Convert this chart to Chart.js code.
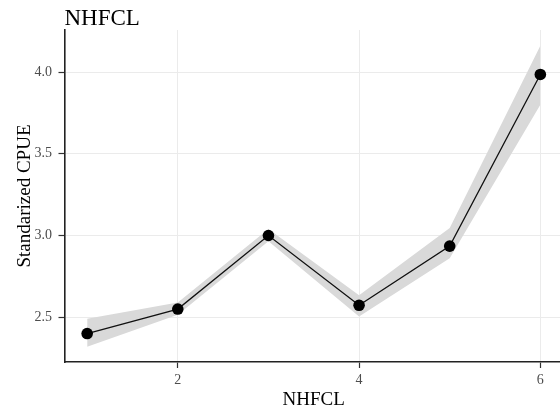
<!DOCTYPE html>
<html>
<head>
<meta charset="utf-8">
<script src="https://cdn.jsdelivr.net/npm/chart.js@4/dist/chart.umd.min.js"></script>
<style>
html,body{margin:0;padding:0;background:#fff;overflow:hidden;}
#wrap{width:560px;height:414px;overflow:hidden;position:relative;}
canvas{display:block;}
</style>
</head>
<body>
<div id="wrap"><canvas id="c" width="563" height="414" style="width:563px;height:414px"></canvas></div>
<script>
const chartTitle = "NHFCL";
const xAxisTitle = "NHFCL";
const yAxisTitle = "Standarized CPUE";
const categories = [1, 2, 3, 4, 5, 6];
const cpue  = [2.40, 2.55, 3.00, 2.573, 2.935, 3.985];
const upper = [2.49, 2.59, 3.04, 2.635, 3.045, 4.16];
const lower = [2.32, 2.515, 2.965, 2.505, 2.86, 3.80];
const xTicks = [2, 4, 6];
const yTicks = [2.5, 3.0, 3.5, 4.0];

const pts = a => categories.map((x, i) => ({x: x, y: a[i]}));
const FONT = "'Liberation Serif', 'Times New Roman', serif";

const titlePlugin = {
  id: 'ggTitle',
  afterDraw(chart) {
    const ctx = chart.ctx;
    ctx.save();
    ctx.font = "23px " + FONT;
    ctx.fillStyle = "#000";
    ctx.textBaseline = "alphabetic";
    ctx.textAlign = "left";
    ctx.fillText(chartTitle, chart.chartArea.left, 25);
    ctx.restore();
  }
};

new Chart(document.getElementById('c'), {
  type: 'line',
  data: {
    datasets: [
      {
        label: 'CPUE', data: pts(cpue), order: 0,
        borderColor: '#111', borderWidth: 1.3, pointRadius: 5.8,
        pointBackgroundColor: '#000', pointBorderColor: '#000', pointBorderWidth: 0,
        fill: false, tension: 0
      },
      {
        label: 'upper', data: pts(upper), order: 1,
        borderWidth: 0, pointRadius: 0, borderColor: 'rgba(0,0,0,0)',
        backgroundColor: '#d9d9d9', fill: '+1', tension: 0
      },
      {
        label: 'lower', data: pts(lower), order: 2,
        borderWidth: 0, pointRadius: 0, borderColor: 'rgba(0,0,0,0)',
        backgroundColor: '#d9d9d9', fill: false, tension: 0
      }
    ]
  },
  options: {
    responsive: false,
    animation: false,
    events: [],
    layout: {autoPadding: false, padding: {top: 30, left: 0, right: 0, bottom: 0}},
    plugins: {legend: {display: false}, tooltip: {enabled: false}, title: {display: false}},
    scales: {
      x: {
        type: 'linear', min: 0.75, max: 6.25,
        afterBuildTicks: s => { s.ticks = xTicks.map(v => ({value: v})); },
        afterFit: s => { s.height = 52; s.paddingLeft = 0; s.paddingRight = 0; },
        grid: {color: '#ebebeb', lineWidth: 1, tickLength: 6, tickColor: '#333', tickWidth: 1.2},
        border: {display: true, color: '#222', width: 1.6},
        ticks: {font: {family: FONT, size: 14}, color: '#4d4d4d', padding: 4, maxRotation: 0,
                callback: v => String(v)},
        title: {display: true, text: xAxisTitle, font: {family: FONT, size: 19}, color: '#000',
                padding: {top: 0, bottom: 3}}
      },
      y: {
        type: 'linear', min: 2.226, max: 4.257,
        afterBuildTicks: s => { s.ticks = yTicks.map(v => ({value: v})); },
        afterFit: s => { s.width = 64.5; s.paddingTop = 0; s.paddingBottom = 0; },
        grid: {color: '#ebebeb', lineWidth: 1, tickLength: 6, tickColor: '#333', tickWidth: 1.2},
        border: {display: true, color: '#222', width: 1.6},
        ticks: {font: {family: FONT, size: 14}, color: '#4d4d4d', padding: 6.5,
                callback: v => v.toFixed(1)},
        title: {display: true, text: yAxisTitle, font: {family: FONT, size: 19}, color: '#000',
                padding: {top: 14, bottom: 0}}
      }
    }
  },
  plugins: [titlePlugin]
});
</script>
</body>
</html>
